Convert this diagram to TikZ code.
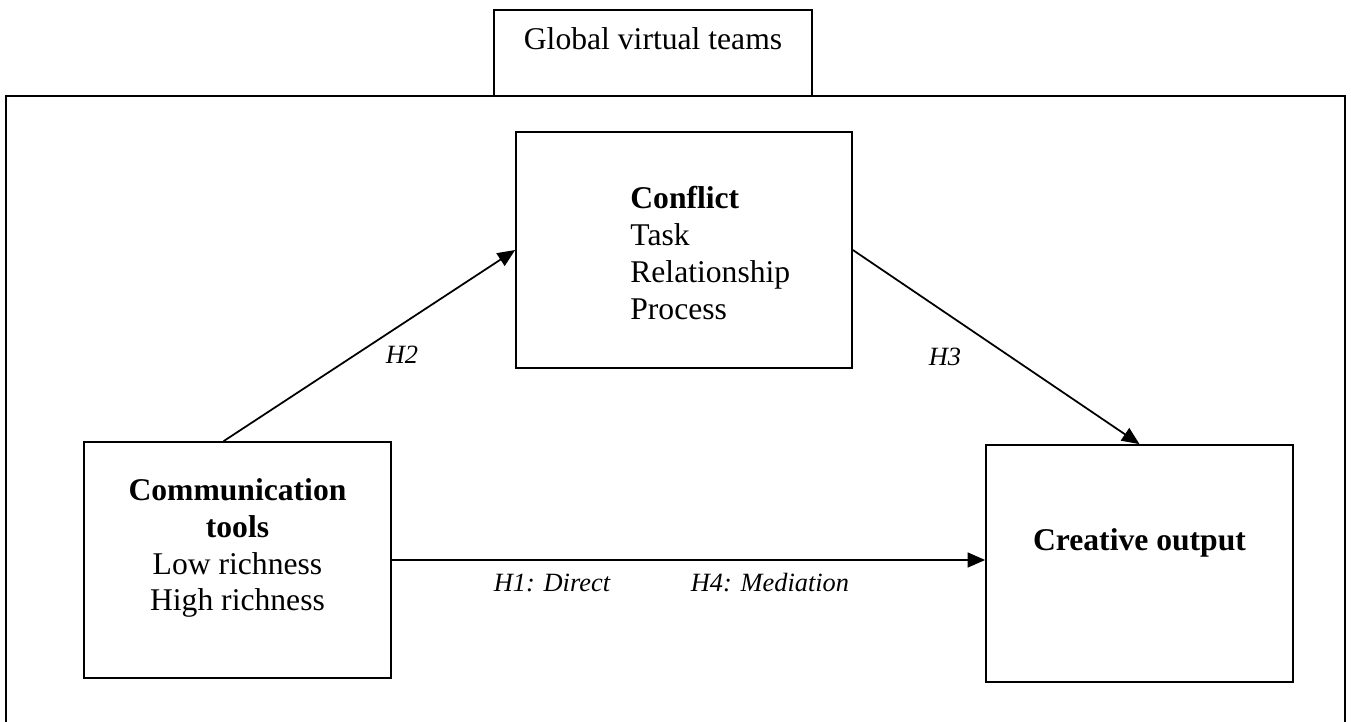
\documentclass[tikz,border=0pt]{standalone}
\usepackage{fontspec}
\setmainfont{Liberation Serif}
\usetikzlibrary{arrows.meta,calc}

\begin{document}
\begin{tikzpicture}[x=0.02cm,y=-0.02cm,
	box/.style={draw,line width=1pt,inner sep=0pt},
	txt/.style={inner sep=0pt,font=\fontsize{18}{21}\selectfont},
	hyp/.style={inner sep=0pt,font=\fontsize{15}{18}\selectfont\itshape},
	arr/.style={line width=1pt,-{Triangle[length=10pt,width=8.5pt]}}]
	%%%%% START %%%%%
	\useasboundingbox (0,0) rectangle (1351,722);
	
	% frame, runs off the page at the bottom
	\draw[line width=1pt] (6,740) -- (6,96) -- (1345,96) -- (1345,740);
	
	\node[box,minimum width=6.36cm,minimum height=1.72cm] (teams) at (653,53) {};
	\node[txt,anchor=base] (teamstxt) at (653,50) {Global virtual teams};
	
	\node[box,minimum width=6.72cm,minimum height=4.72cm] (conflict) at (684,250) {};
	\node[txt,align=left,anchor=north west] (conflicttxt) at (630,186)
		{\textbf{Conflict}\\Task\\Relationship\\Process};
	
	\node[box,minimum width=6.14cm,minimum height=4.72cm] (comm) at (237.5,560) {};
	\node[txt,align=center,anchor=north] (commtxt) at (237.5,478)
		{\textbf{Communication}\\\textbf{tools}\\Low richness\\High richness};
	
	\node[box,minimum width=6.14cm,minimum height=4.74cm] (creative) at (1139.5,563.5) {};
	\node[txt,anchor=base] (creativetxt) at (1139.5,550) {\textbf{Creative output}};
	
	\draw[arr] ($(comm.north west)!0.455!(comm.north east)$) -- (conflict.west);
	\draw[arr] (conflict.east) -- (creative.north);
	\draw[arr] (comm.east) -- (comm.east -| creative.west);
	
	\node[hyp] (h2) at (402,355) {H2};
	\node[hyp] (h3) at (945,357) {H3};
	\node[hyp] (h1) at (552,583) {H1: Direct};
	\node[hyp] (h4) at (770,583) {H4: Mediation};
	%%%%% END %%%%%
\end{tikzpicture}
\end{document}
